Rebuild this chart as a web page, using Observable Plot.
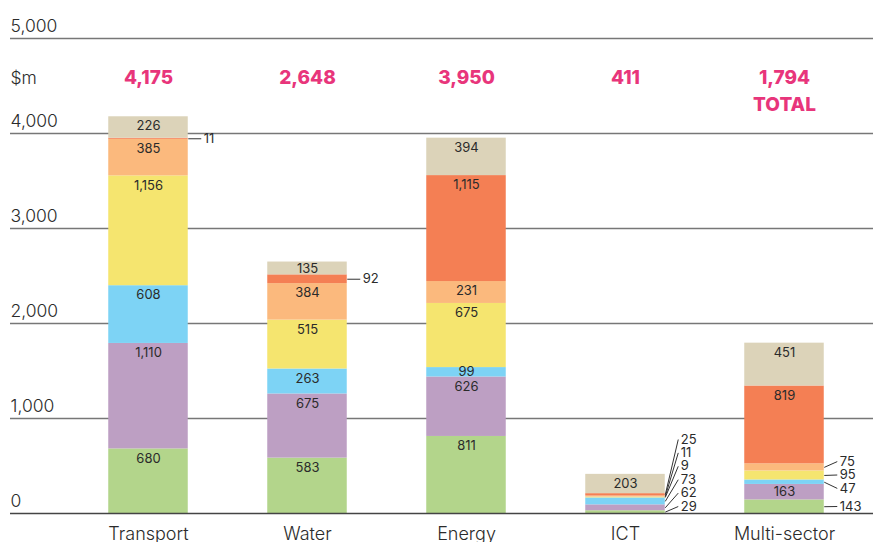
<!DOCTYPE html>
<html>
<head>
<meta charset="utf-8">
<script src="https://cdn.jsdelivr.net/npm/d3@7"></script>
<script src="https://cdn.jsdelivr.net/npm/@observablehq/plot@0.6"></script>
<style>
  html, body { margin: 0; padding: 0; background: #fff; }
  #chart svg { display: block; }
</style>
</head>
<body>
<div id="chart"></div>
<script>
// ---- data ----
const categories = ["Transport", "Water", "Energy", "ICT", "Multi-sector"];
const seriesNames = ["Series 1", "Series 2", "Series 3", "Series 4", "Series 5", "Series 6", "Series 7"];
const seriesColors = ["#b3d58b", "#bd9fc3", "#7dd3f5", "#f5e56f", "#fbb97d", "#f47f54", "#dcd3b9"];
const transportValues = [680, 1110, 608, 1156, 385, 11, 226];
const waterValues = [583, 675, 263, 515, 384, 92, 135];
const energyValues = [811, 626, 99, 675, 231, 1115, 394];
const ictValues = [29, 62, 73, 9, 11, 25, 203];
const multiValues = [143, 163, 47, 95, 75, 819, 451];
const totals = [4175, 2648, 3950, 411, 1794];
const yTicks = [0, 1000, 2000, 3000, 4000, 5000];
// segments whose value is written outside the bar, with a leader line
const outsideLabels = {
  "Transport": [5],
  "Water": [5],
  "ICT": [0, 1, 2, 3, 4, 5],
  "Multi-sector": [0, 2, 3, 4]
};

// ---- build table ----
const valuesByCategory = [transportValues, waterValues, energyValues, ictValues, multiValues];
const rows = [];
valuesByCategory.forEach((vals, i) => {
  let acc = 0;
  vals.forEach((v, j) => {
    const outside = (outsideLabels[categories[i]] || []).includes(j);
    rows.push({i, category: categories[i], series: seriesNames[j], value: v, y1: acc, y2: acc + v, mid: acc + v / 2, outside});
    acc += v;
  });
});

// layout constants (in y data units; 1000 units = 95px)
const unitsPerPx = 1000 / 95;
const gap = 13.4 * unitsPerPx;
const minLabel = 7 * unitsPerPx;

// dodge the outside labels of each category (centered clusters)
function dodge(items) {
  items.sort((a, b) => a.mid - b.mid);
  let clusters = items.map(d => ({items: [d], center: d.mid}));
  let changed = true;
  while (changed) {
    changed = false;
    for (const c of clusters) {
      const bottom = c.center - (c.items.length - 1) / 2 * gap;
      if (bottom < minLabel) c.center += minLabel - bottom;
    }
    for (let k = 1; k < clusters.length; k++) {
      const p = clusters[k - 1], c = clusters[k];
      const pTop = p.center + (p.items.length - 1) / 2 * gap;
      const cBot = c.center - (c.items.length - 1) / 2 * gap;
      if (cBot - pTop < gap - 1e-6) {
        const merged = p.items.concat(c.items);
        clusters.splice(k - 1, 2, {items: merged, center: d3.mean(merged, d => d.mid)});
        changed = true;
        break;
      }
    }
  }
  for (const c of clusters) {
    c.items.forEach((d, k) => { d.labelY = c.center + (k - (c.items.length - 1) / 2) * gap; });
  }
}
const outRows = rows.filter(d => d.outside);
d3.groups(outRows, d => d.category).forEach(([, g]) => dodge(g));
const inRows = rows.filter(d => !d.outside);
inRows.forEach(d => { d.labelY = Math.max(d.y2 - 9.5 * unitsPerPx, d.mid); });

const fmt = d3.format(",");
const half = 39.75 / 159;      // half bar width in x units
const lead = 13 / 159;         // leader line length in x units

const chart = Plot.plot({
  width: 873,
  height: 542,
  marginTop: 38,
  marginBottom: 29,
  marginLeft: 10,
  marginRight: 0,
  x: {type: "linear", domain: [0, 4], range: [148, 784], axis: null},
  y: {domain: [0, 5000], axis: null},
  color: {domain: seriesNames, range: seriesColors},
  style: {fontFamily: "Inter, 'Noto Sans', sans-serif", color: "#2b2b2b", background: "#fff"},
  marks: [
    Plot.ruleY(yTicks.filter(d => d > 0), {stroke: "#777", strokeWidth: 1.5}),
    Plot.rect(rows, {x1: d => d.i - half, x2: d => d.i + half, y1: "y1", y2: "y2", fill: "series"}),
    Plot.ruleY([0], {stroke: "#444", strokeWidth: 1.5}),
    Plot.text(inRows, {x: "i", y: "labelY", text: d => fmt(d.value), fill: "#2b2b2b", fontSize: 13}),
    Plot.link(outRows, {x1: d => d.i + half, x2: d => d.i + half + lead, y1: "mid", y2: "labelY", stroke: "#333", strokeWidth: 1}),
    Plot.text(outRows, {x: d => d.i + half + lead, y: "labelY", text: d => fmt(d.value), textAnchor: "start", dx: 2.5, fill: "#2b2b2b", fontSize: 13}),
    Plot.text(yTicks, {y: d => d, text: d => fmt(d), frameAnchor: "left", textAnchor: "start", lineAnchor: "bottom", dy: -7, fontSize: 17.5, fontWeight: 300, fill: "#2b2b2b"}),
    Plot.text(["$m"], {y: () => 5000, text: d => d, frameAnchor: "left", textAnchor: "start", lineAnchor: "bottom", dy: 45, fontSize: 17.5, fontWeight: 300, fill: "#2b2b2b"}),
    Plot.text(totals, {x: (d, i) => i, y: () => 5000, text: d => fmt(d), lineAnchor: "bottom", dy: 45, fontSize: 19, fontWeight: 800, fill: "#e8357b"}),
    Plot.text(["TOTAL"], {x: () => 4, y: () => 5000, text: d => d, lineAnchor: "bottom", dy: 72.5, fontSize: 19, fontWeight: 800, fill: "#e8357b"}),
    Plot.text(categories, {x: (d, i) => i, y: () => 0, text: d => d, lineAnchor: "bottom", dy: 26.5, fontSize: 18, fontWeight: 300, fill: "#2b2b2b"})
  ]
});
document.getElementById("chart").appendChild(chart);
</script>
</body>
</html>
